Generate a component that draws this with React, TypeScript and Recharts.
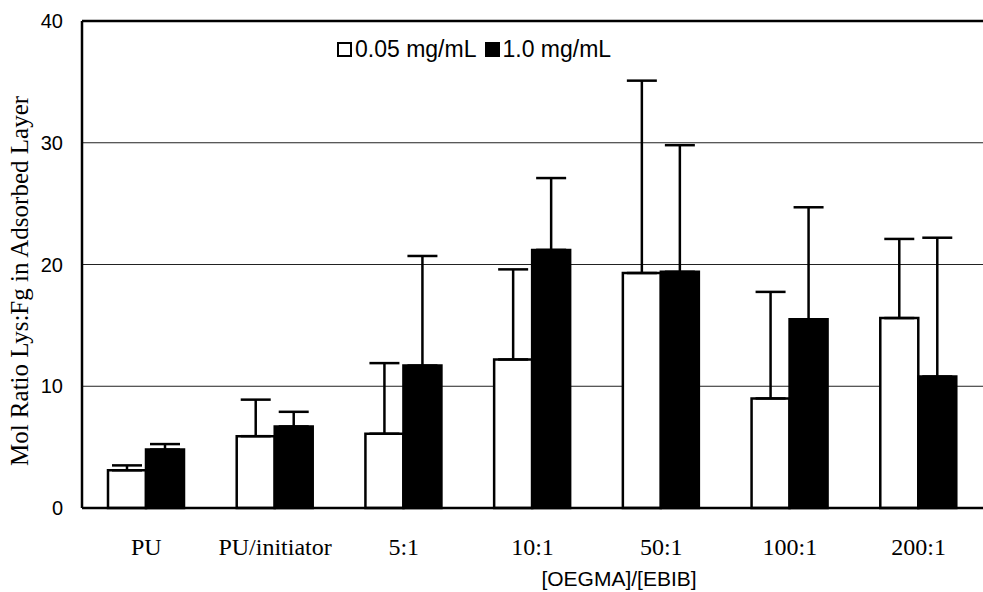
import {
  BarChart,
  Bar,
  XAxis,
  YAxis,
  CartesianGrid,
  ErrorBar,
  Legend,
  ReferenceLine,
} from "recharts";

const categories = ["PU", "PU/initiator", "5:1", "10:1", "50:1", "100:1", "200:1"];
// mean mol ratio and upper standard deviation, per protein concentration
const lowConc = [3.1, 5.9, 6.1, 12.2, 19.3, 9.0, 15.6];
const lowConcErr = [0.4, 3.0, 5.8, 7.4, 15.8, 8.75, 6.5];
const highConc = [4.8, 6.7, 11.7, 21.2, 19.4, 15.5, 10.8];
const highConcErr = [0.45, 1.2, 9.0, 5.9, 10.4, 9.2, 11.4];
const yTicks = [0, 10, 20, 30, 40];

const data = categories.map((name, i) => ({
  name,
  low: lowConc[i],
  lowErr: [0, lowConcErr[i]],
  high: highConc[i],
  highErr: [0, highConcErr[i]],
}));

const SANS = "'Liberation Sans', Arial, sans-serif";
const SERIF = "'Liberation Serif', 'Times New Roman', serif";

const LegendBox = () => (
  <div
    style={{
      display: "flex",
      alignItems: "center",
      fontFamily: SANS,
      fontSize: 23,
      color: "#000",
      whiteSpace: "nowrap",
    }}
  >
    <span
      style={{
        display: "inline-block",
        width: 11,
        height: 11,
        border: "2.5px solid #000",
        background: "#fff",
        marginRight: 3,
      }}
    />
    <span style={{ marginRight: 9 }}>0.05 mg/mL</span>
    <span
      style={{
        display: "inline-block",
        width: 15,
        height: 15,
        background: "#000",
        marginRight: 2,
      }}
    />
    <span>1.0 mg/mL</span>
  </div>
);

export default function App() {
  return (
    <div style={{ position: "absolute", left: 0, top: 0, background: "#fff" }}>
      <BarChart
        width={983}
        height={592}
        data={data}
        margin={{ top: 21, right: 0, bottom: 24, left: 0 }}
        barGap={0}
      >
        <CartesianGrid vertical={false} stroke="#222" strokeWidth={1} />
        <XAxis
          dataKey="name"
          height={60}
          axisLine={{ stroke: "#000", strokeWidth: 2.5 }}
          tickLine={false}
          tickSize={0}
          tickMargin={30}
          tick={{ fontFamily: SERIF, fontSize: 24, fill: "#000" }}
          label={{
            content: () => (
              <text
                x={619}
                y={586}
                textAnchor="middle"
                fontFamily={SANS}
                fontSize={21}
                fill="#000"
              >
                [OEGMA]/[EBIB]
              </text>
            ),
          }}
        />
        <YAxis
          width={82}
          domain={[0, 40]}
          ticks={yTicks}
          interval={0}
          axisLine={{ stroke: "#000", strokeWidth: 2.5 }}
          tickLine={false}
          tickSize={0}
          tickMargin={19}
          tick={{ fontFamily: SANS, fontSize: 20, fill: "#000" }}
          label={{
            content: () => (
              <text
                x={28}
                y={281}
                transform="rotate(-90 28 281)"
                textAnchor="middle"
                fontFamily={SERIF}
                fontSize={25}
                fill="#000"
              >
                Mol Ratio Lys:Fg in Adsorbed Layer
              </text>
            ),
          }}
        />
        <ReferenceLine y={40} stroke="#000" strokeWidth={2.5} />
        <Legend
          layout="horizontal"
          verticalAlign="middle"
          align="center"
          wrapperStyle={{ top: 36, left: 337, width: 340, height: 28 }}
          content={() => <LegendBox />}
        />
        <Bar
          dataKey="low"
          name="0.05 mg/mL"
          fill="#fff"
          stroke="#000"
          strokeWidth={2.5}
          barSize={38}
          isAnimationActive={false}
        >
          <ErrorBar dataKey="lowErr" width={15} stroke="#000" strokeWidth={2.5} direction="y" />
        </Bar>
        <Bar
          dataKey="high"
          name="1.0 mg/mL"
          fill="#000"
          stroke="#000"
          strokeWidth={2.5}
          barSize={38}
          isAnimationActive={false}
        >
          <ErrorBar dataKey="highErr" width={15} stroke="#000" strokeWidth={2.5} direction="y" />
        </Bar>
      </BarChart>
    </div>
  );
}
